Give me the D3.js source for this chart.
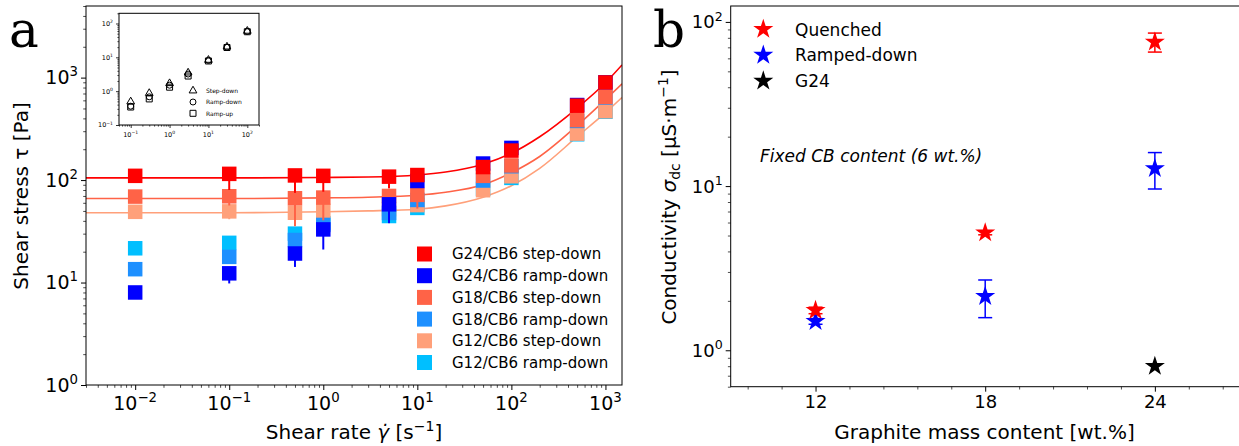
<!DOCTYPE html>
<html>
<head>
<meta charset="utf-8">
<script src="https://cdn.jsdelivr.net/npm/d3@7"></script>
<style>
  body { margin: 0; background: #fff; }
  svg { display: block; font-family: "DejaVu Sans", sans-serif; }
</style>
</head>
<body>
<svg id="fig" width="1239" height="446"></svg>
<script>
// ==================== PANEL A DATA ====================
const shearRates = [0.01, 0.1, 0.5, 1, 5, 10, 50, 100, 500, 1000];
const g24Step = [110, 115, 111, 110, 108, 112, 134, 194, 532, 897];
const g24Ramp = [8.0, 12.3, 19.2, 33, 58, 98, 145, 206, 540, 900];
const g18Step = [69, 69.5, 66.5, 67.5, 70, 71.7, 110, 139, 385, 648];
const g18Ramp = [13.5, 17.8, 26, 36.5, 47.8, 64, 99, 136.5, 378, 640];
const g12Step = [49, 49.5, 48, 50, 52, 57, 79.6, 109, 284, 470];
const g12Ramp = [21.6, 24.4, 30, 38, 44.6, 53.5, 82, 105, 280, 465];
// lower error bars (upper ones hide under the markers)
const g24StepLo = [0, 35, 36, 33, 25, 0, 0, 0, 0, 0];
const g24RampLo = [0, 2.5, 5, 12, 20, 0, 0, 0, 0, 0];
const g18StepLo = [0, 13, 31, 27, 32, 19, 0, 0, 0, 0];
const g18RampLo = [0, 0, 0, 0, 0, 0, 0, 0, 0, 0];
const g12StepLo = [0, 8, 0, 0, 0, 0, 0, 0, 0, 0];
const g12RampLo = [0, 0, 0, 0, 0, 0, 0, 0, 0, 0];

// fitted flow curves
const fitRates = [0.003, 0.1, 1, 3, 10, 20, 50, 100, 200, 500, 1000, 1500];
const fitG24 = [105, 105, 106, 107, 112, 120, 143, 183, 265, 505, 890, 1330];
const fitG18 = [66, 66, 67, 68, 71, 76, 90, 118, 170, 340, 610, 870];
const fitG12 = [48, 48, 49, 50, 52, 56, 68, 88, 130, 265, 455, 640];

// inset
const insetRates = [0.1, 0.3, 1, 3, 10, 30, 100];
const insetStep = [0.49, 0.87, 1.7, 3.5, 8.3, 20.5, 60];
const insetRampDown = [0.36, 0.68, 1.5, 3.2, 8.1, 20, 58];
const insetRampUp = [0.34, 0.59, 1.31, 2.8, 7.8, 19.5, 57];
const insetLegend = ["Step-down", "Ramp-down", "Ramp-up"];

// ==================== PANEL B DATA ====================
const graphite = [12, 18, 24];
const quenched = [1.75, 5.2, 75.5];
const quenchedErr = [0.08, 0.15, 10];
const ramped = [1.5, 2.13, 12.8];
const rampedErr = [0.06, 0.55, 3.2];
const g24Content = [24];
const g24Only = [0.8];
const graphiteTicks = [12, 18, 24];
const graphiteMinor = [9.6, 10.8, 13.2, 14.4, 15.6, 16.8, 19.2, 20.4, 21.6, 22.8, 25.2, 26.4];
const legendB = ["Quenched", "Ramped-down", "G24"];

// ==================== HELPERS ====================
const svg = d3.select("#fig");
const FONT = "DejaVu Sans";

function expText(v){
    const e = Math.round(Math.log10(v));
    return (e < 0 ? "\u2212" : "") + Math.abs(e);
}

// power-of-ten label: "10" + superscript
function powLabel(g, x, y, v, fs, anchor){
    const t = g.append("text").attr("x", x).attr("y", y)
        .attr("text-anchor", anchor).attr("font-size", fs).attr("fill", "#000");
    t.append("tspan").text("10");
    t.append("tspan").attr("dy", -0.42*fs).attr("font-size", fs*0.7).text(expText(v));
}

function isPow10(v){ return Math.abs(Math.log10(v) - Math.round(Math.log10(v))) < 1e-9; }

function logTicksLeft(g, scale, x, fs, maj, mnr){
    const all = scale.ticks();
    const majors = all.filter(isPow10), minors = all.filter(v => !isPow10(v));
    g.append("g").attr("transform", `translate(${x},0)`)
        .call(d3.axisLeft(scale).tickValues(majors).tickSize(maj).tickFormat(""))
        .call(a => a.select(".domain").remove())
        .call(a => a.selectAll("line").attr("stroke-width", fs > 10 ? 1 : 0.8));
    g.append("g").attr("transform", `translate(${x},0)`)
        .call(d3.axisLeft(scale).tickValues(minors).tickSize(mnr).tickFormat(""))
        .call(a => a.select(".domain").remove())
        .call(a => a.selectAll("line").attr("stroke-width", 0.7));
    majors.forEach(v => powLabel(g, x - maj - 3, scale(v) + fs*0.36, v, fs, "end"));
}

function logTicksBottom(g, scale, y, fs, maj, mnr){
    const all = scale.ticks();
    const majors = all.filter(isPow10), minors = all.filter(v => !isPow10(v));
    g.append("g").attr("transform", `translate(0,${y})`)
        .call(d3.axisBottom(scale).tickValues(majors).tickSize(maj).tickFormat(""))
        .call(a => a.select(".domain").remove())
        .call(a => a.selectAll("line").attr("stroke-width", fs > 10 ? 1 : 0.8));
    g.append("g").attr("transform", `translate(0,${y})`)
        .call(d3.axisBottom(scale).tickValues(minors).tickSize(mnr).tickFormat(""))
        .call(a => a.select(".domain").remove())
        .call(a => a.selectAll("line").attr("stroke-width", 0.7));
    majors.forEach(v => powLabel(g, scale(v), y + maj + 3 + fs*0.9, v, fs, "middle"));
}

// ==================== PANEL A ====================
const fa = {l: 86, t: 6, r: 622, b: 385};
const xA = d3.scaleLog().domain([0.003, 1500]).range([fa.l, fa.r]);
const yA = d3.scaleLog().domain([1, 5000]).range([fa.b, fa.t]);
const gA = svg.append("g");

svg.append("clipPath").attr("id", "clipA")
  .append("rect").attr("x", fa.l).attr("y", fa.t).attr("width", fa.r - fa.l).attr("height", fa.b - fa.t);

const plotA = gA.append("g").attr("clip-path", "url(#clipA)");

// fit curves
const fitLine = d3.line().x(d => xA(d[0])).y(d => yA(d[1])).curve(d3.curveMonotoneX);
[[fitG12, "#ffa07a"], [fitG18, "#ff6347"], [fitG24, "#ff0000"]].forEach(([vals, c]) => {
    plotA.append("path").datum(fitRates.map((r, i) => [r, vals[i]]))
        .attr("d", fitLine).attr("fill", "none").attr("stroke", c).attr("stroke-width", 1.6);
});

// data series in draw order
const seriesA = [
    {name: "G12/CB6 ramp-down", vals: g12Ramp, lo: g12RampLo, color: "#00bfff"},
    {name: "G12/CB6 step-down", vals: g12Step, lo: g12StepLo, color: "#ffa07a"},
    {name: "G18/CB6 ramp-down", vals: g18Ramp, lo: g18RampLo, color: "#1e90ff"},
    {name: "G18/CB6 step-down", vals: g18Step, lo: g18StepLo, color: "#ff6347"},
    {name: "G24/CB6 ramp-down", vals: g24Ramp, lo: g24RampLo, color: "#0000ff"},
    {name: "G24/CB6 step-down", vals: g24Step, lo: g24StepLo, color: "#ff0000"}
];
const SQ = 14.5;
seriesA.forEach(s => {
    const pts = shearRates.map((r, i) => ({r, v: s.vals[i], lo: s.lo[i]}));
    plotA.append("g").selectAll("line").data(pts.filter(p => p.lo > 0)).join("line")
        .attr("x1", p => xA(p.r)).attr("x2", p => xA(p.r))
        .attr("y1", p => yA(p.v)).attr("y2", p => yA(p.v - p.lo))
        .attr("stroke", s.color).attr("stroke-width", 2);
    plotA.append("g").selectAll("rect").data(pts).join("rect")
        .attr("x", p => xA(p.r) - SQ/2).attr("y", p => yA(p.v) - SQ/2)
        .attr("width", SQ).attr("height", SQ).attr("fill", s.color);
});

// legend a
const legendOrderA = ["G24/CB6 step-down", "G24/CB6 ramp-down", "G18/CB6 step-down",
                      "G18/CB6 ramp-down", "G12/CB6 step-down", "G12/CB6 ramp-down"];
legendOrderA.forEach((name, i) => {
    const s = seriesA.find(d => d.name === name);
    const cy = 254 + i*21.7;
    gA.append("rect").attr("x", 424.5 - 7.5).attr("y", cy - 7.5).attr("width", 15).attr("height", 15).attr("fill", s.color);
    gA.append("text").attr("x", 452).attr("y", cy + 5.4).attr("font-size", 15).text(name);
});

// frame + axes a
gA.append("rect").attr("x", fa.l).attr("y", fa.t).attr("width", fa.r - fa.l).attr("height", fa.b - fa.t)
    .attr("fill", "none").attr("stroke", "#000").attr("stroke-width", 1);
logTicksLeft(gA, yA, fa.l, 19, 5, 2.8);
logTicksBottom(gA, xA, fa.b, 19, 5, 2.8);

// axis labels a
const ylA = gA.append("text").attr("transform", "translate(28,196) rotate(-90)")
    .attr("text-anchor", "middle").attr("font-size", 20).text("Shear stress \u03c4 [Pa]");
const xlA = gA.append("text").attr("x", 354).attr("y", 439).attr("text-anchor", "middle").attr("font-size", 20);
xlA.append("tspan").text("Shear rate ");
xlA.append("tspan").attr("font-style", "italic").text("\u03b3\u0307");
xlA.append("tspan").text(" [s");
xlA.append("tspan").attr("dy", -8).attr("font-size", 14).text("\u22121");
xlA.append("tspan").attr("dy", 8).text("]");

gA.append("text").attr("x", 9).attr("y", 47).attr("font-family", "DejaVu Serif")
    .attr("font-size", 50).text("a");

// ---- inset ----
const fi = {l: 119, t: 13.3, r: 259, b: 125};
const xI = d3.scaleLog().domain([0.05, 200]).range([fi.l, fi.r]);
const yI = d3.scaleLog().domain([0.1, 200]).range([fi.b, fi.t]);
const gI = svg.append("g");
gI.append("rect").attr("x", fi.l).attr("y", fi.t).attr("width", fi.r - fi.l).attr("height", fi.b - fi.t)
    .attr("fill", "#fff").attr("stroke", "#000").attr("stroke-width", 1);

const triSym = d3.symbol().type(d3.symbolTriangle).size(26);
const circSym = d3.symbol().type(d3.symbolCircle).size(28);
const sqSym = d3.symbol().type(d3.symbolSquare).size(36);
function insetMarks(vals, sym){
    gI.append("g").selectAll("path").data(insetRates.map((r, i) => [r, vals[i]])).join("path")
        .attr("transform", d => `translate(${xI(d[0])},${yI(d[1])})`)
        .attr("d", sym).attr("fill", "none").attr("stroke", "#000").attr("stroke-width", 1);
}
insetMarks(insetRampUp, sqSym);
insetMarks(insetRampDown, circSym);
insetMarks(insetStep, triSym);

[triSym, circSym, sqSym].forEach((sym, i) => {
    const cy = 90.7 + i*11.3;
    gI.append("path").attr("transform", `translate(193,${cy})`).attr("d", sym)
        .attr("fill", "none").attr("stroke", "#000").attr("stroke-width", 1);
    gI.append("text").attr("x", 206).attr("y", cy + 2.2).attr("font-size", 6).text(insetLegend[i]);
});
logTicksLeft(gI, yI, fi.l, 6.5, 3, 1.6);
logTicksBottom(gI, xI, fi.b, 6.5, 3, 1.6);

// ==================== PANEL B ====================
const fb = {l: 730.7, t: 6, r: 1239.7, b: 386.7};
const xB = d3.scaleLinear().domain([9, 27]).range([fb.l, fb.r]);
const yB = d3.scaleLog().domain([0.6, 125]).range([fb.b, fb.t]);
const gB = svg.append("g");

const star = d3.symbol().type(d3.symbolStar).size(125);

function starSeries(xs, vals, errs, color){
    const pts = xs.map((x, i) => ({x, v: vals[i], e: errs ? errs[i] : 0}));
    const eb = gB.append("g").attr("stroke", color).attr("stroke-width", 1.5);
    pts.filter(p => p.e > 0).forEach(p => {
        const cx = xB(p.x), y1 = yB(p.v + p.e), y2 = yB(p.v - p.e);
        eb.append("line").attr("x1", cx).attr("x2", cx).attr("y1", y1).attr("y2", y2);
        eb.append("line").attr("x1", cx - 7).attr("x2", cx + 7).attr("y1", y1).attr("y2", y1);
        eb.append("line").attr("x1", cx - 7).attr("x2", cx + 7).attr("y1", y2).attr("y2", y2);
    });
    gB.append("g").selectAll("path").data(pts).join("path")
        .attr("transform", p => `translate(${xB(p.x)},${yB(p.v)})`)
        .attr("d", star).attr("fill", color);
}
starSeries(graphite, ramped, rampedErr, "#0000ff");
starSeries(graphite, quenched, quenchedErr, "#ff0000");
starSeries(g24Content, g24Only, null, "#000000");

// legend b
["#ff0000", "#0000ff", "#000000"].forEach((c, i) => {
    const cy = 29.3 + i*25.8;
    gB.append("path").attr("transform", `translate(763.3,${cy})`).attr("d", star).attr("fill", c);
    gB.append("text").attr("x", 795).attr("y", cy + 6.2).attr("font-size", 17).text(legendB[i]);
});

gB.append("text").attr("x", 760).attr("y", 162).attr("font-size", 17).attr("font-style", "italic")
    .text("Fixed CB content (6 wt.%)");

// frame + axes b
gB.append("rect").attr("x", fb.l).attr("y", fb.t).attr("width", fb.r - fb.l).attr("height", fb.b - fb.t)
    .attr("fill", "none").attr("stroke", "#000").attr("stroke-width", 1);
logTicksLeft(gB, yB, fb.l, 18, 5, 2.8);
gB.append("g").attr("transform", `translate(0,${fb.b})`)
    .call(d3.axisBottom(xB).tickValues(graphiteTicks).tickSize(5).tickPadding(4))
    .call(a => a.select(".domain").remove())
    .call(a => a.selectAll("text").attr("font-size", 18).attr("font-family", FONT).attr("fill", "#000"));
gB.append("g").attr("transform", `translate(0,${fb.b})`)
    .call(d3.axisBottom(xB).tickValues(graphiteMinor).tickSize(2.8).tickFormat(""))
    .call(a => a.select(".domain").remove())
    .call(a => a.selectAll("line").attr("stroke-width", 0.7));

const ylB = gB.append("text").attr("transform", "translate(676,197) rotate(-90)")
    .attr("text-anchor", "middle").attr("font-size", 20);
ylB.append("tspan").text("Conductivity ");
ylB.append("tspan").attr("font-style", "italic").text("\u03c3");
ylB.append("tspan").attr("dy", 4).attr("font-size", 14).text("dc");
ylB.append("tspan").attr("dy", -4).text(" [\u03bcS\u00b7m");
ylB.append("tspan").attr("dy", -8).attr("font-size", 14).text("\u22121");
ylB.append("tspan").attr("dy", 8).text("]");

gB.append("text").attr("x", 984.5).attr("y", 439).attr("text-anchor", "middle").attr("font-size", 20)
    .text("Graphite mass content [wt.%]");

gB.append("text").attr("x", 653).attr("y", 47).attr("font-family", "DejaVu Serif")
    .attr("font-size", 50).text("b");
</script>
</body>
</html>
